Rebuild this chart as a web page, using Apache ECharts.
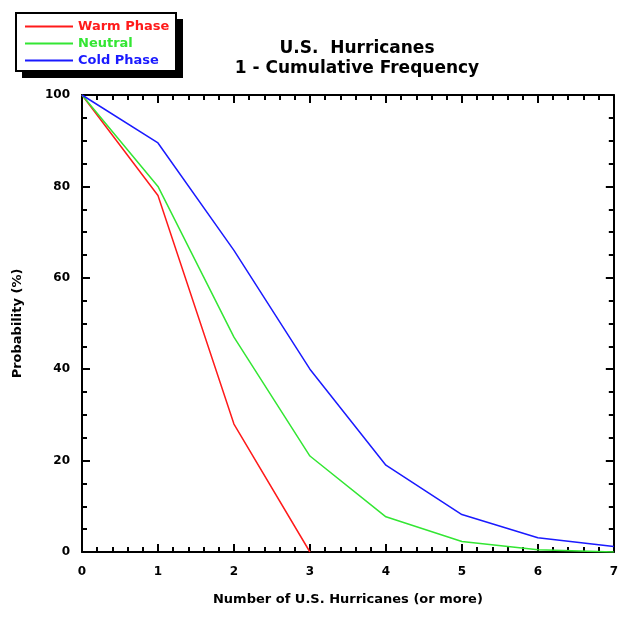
<!DOCTYPE html>
<html>
<head>
<meta charset="utf-8">
<script src="https://cdn.jsdelivr.net/npm/echarts@6/dist/echarts.min.js"></script>
<style>
  html, body { margin: 0; padding: 0; background: #fff; }
  #main { width: 621px; height: 618px; }
</style>
</head>
<body>
<div id="main"></div>
<script>
// 累计频率数据
var hurricanes = [0, 1, 2, 3, 4, 5, 6, 7];
var warmPhase = [100, 78, 28, 0];
var neutral = [100, 80, 47, 21, 7.7, 2.3, 0.5, 0];
var coldPhase = [100, 89.5, 66, 40, 19, 8.2, 3.1, 1.2];
var yTicks = [0, 20, 40, 60, 80, 100];

function pairs(vals) {
    return vals.map(function (v, i) { return [hurricanes[i], v]; });
}

var myChart = echarts.init(document.getElementById('main'));

var fontFam = 'DejaVu Sans, sans-serif';
var axisLine = { show: true, onZero: false, lineStyle: { color: '#000', width: 2 } };
var tick = { show: true, inside: true, length: 8, lineStyle: { color: '#000', width: 2 } };
var minor = { show: true, length: 5, lineStyle: { color: '#000', width: 2 } };

var option = {
    animation: false,
    backgroundColor: '#fff',
    // 图例外框 + 阴影
    graphic: [{
        type: 'rect', z: 0, shape: { x: 22, y: 19, width: 161, height: 59 },
        style: { fill: '#000' }
    }, {
        type: 'rect', z: 1, shape: { x: 16, y: 13, width: 160, height: 58 },
        style: { fill: '#fff', stroke: '#000', lineWidth: 2 }
    }],
    title: {
        text: 'U.S.  Hurricanes\n1 - Cumulative Frequency',
        left: 352,
        top: 34,
        textAlign: 'center',
        textStyle: { fontFamily: fontFam, fontSize: 17, fontWeight: 'bold', color: '#000', lineHeight: 20 }
    },
    legend: {
        orient: 'vertical',
        left: 25,
        top: 20,
        padding: 0,
        z: 5,
        itemGap: 4,
        itemWidth: 48,
        itemHeight: 2,
        icon: 'rect',
        textStyle: { fontFamily: fontFam, fontSize: 13, fontWeight: 'bold' },
        data: [
            { name: 'Warm Phase', textStyle: { color: '#ff1a1a' } },
            { name: 'Neutral', textStyle: { color: '#33e633' } },
            { name: 'Cold Phase', textStyle: { color: '#1a1aff' } }
        ]
    },
    grid: { left: 82, right: 7, top: 95, bottom: 66 },
    xAxis: [{
        type: 'value', min: 0, max: 7, interval: 1,
        name: 'Number of U.S. Hurricanes (or more)',
        nameLocation: 'middle', nameGap: 41,
        nameTextStyle: { fontFamily: fontFam, fontSize: 13, fontWeight: 'bold', color: '#000' },
        axisLine: axisLine, axisTick: tick,
        minorTick: Object.assign({ splitNumber: 5 }, minor),
        axisLabel: { color: '#000', fontFamily: fontFam, fontSize: 12, fontWeight: 'bold', margin: 14 },
        splitLine: { show: false }
    }, {
        type: 'value', min: 0, max: 7, interval: 1, position: 'top',
        axisLine: axisLine, axisTick: tick,
        minorTick: Object.assign({ splitNumber: 5 }, minor),
        axisLabel: { show: false }, splitLine: { show: false }
    }],
    yAxis: [{
        type: 'value', min: 0, max: 100, interval: 20,
        name: 'Probability (%)',
        nameLocation: 'middle', nameGap: 58, nameRotate: 90,
        nameTextStyle: { fontFamily: fontFam, fontSize: 13, fontWeight: 'bold', color: '#000' },
        axisLine: axisLine, axisTick: tick,
        minorTick: Object.assign({ splitNumber: 4 }, minor),
        axisLabel: {
            color: '#000', fontFamily: fontFam, fontSize: 12, fontWeight: 'bold', margin: 12,
            formatter: function (v) { return yTicks.indexOf(v) >= 0 ? String(v) : ''; }
        },
        splitLine: { show: false }
    }, {
        type: 'value', min: 0, max: 100, interval: 20, position: 'right',
        axisLine: axisLine, axisTick: tick,
        minorTick: Object.assign({ splitNumber: 4 }, minor),
        axisLabel: { show: false }, splitLine: { show: false }
    }],
    series: [{
        name: 'Warm Phase', type: 'line', showSymbol: false,
        lineStyle: { color: '#ff1a1a', width: 1.5 }, itemStyle: { color: '#ff1a1a' },
        data: pairs(warmPhase)
    }, {
        name: 'Neutral', type: 'line', showSymbol: false,
        lineStyle: { color: '#33e633', width: 1.5 }, itemStyle: { color: '#33e633' },
        data: pairs(neutral)
    }, {
        name: 'Cold Phase', type: 'line', showSymbol: false,
        lineStyle: { color: '#1a1aff', width: 1.5 }, itemStyle: { color: '#1a1aff' },
        data: pairs(coldPhase)
    }]
};

myChart.setOption(option);
</script>
</body>
</html>
